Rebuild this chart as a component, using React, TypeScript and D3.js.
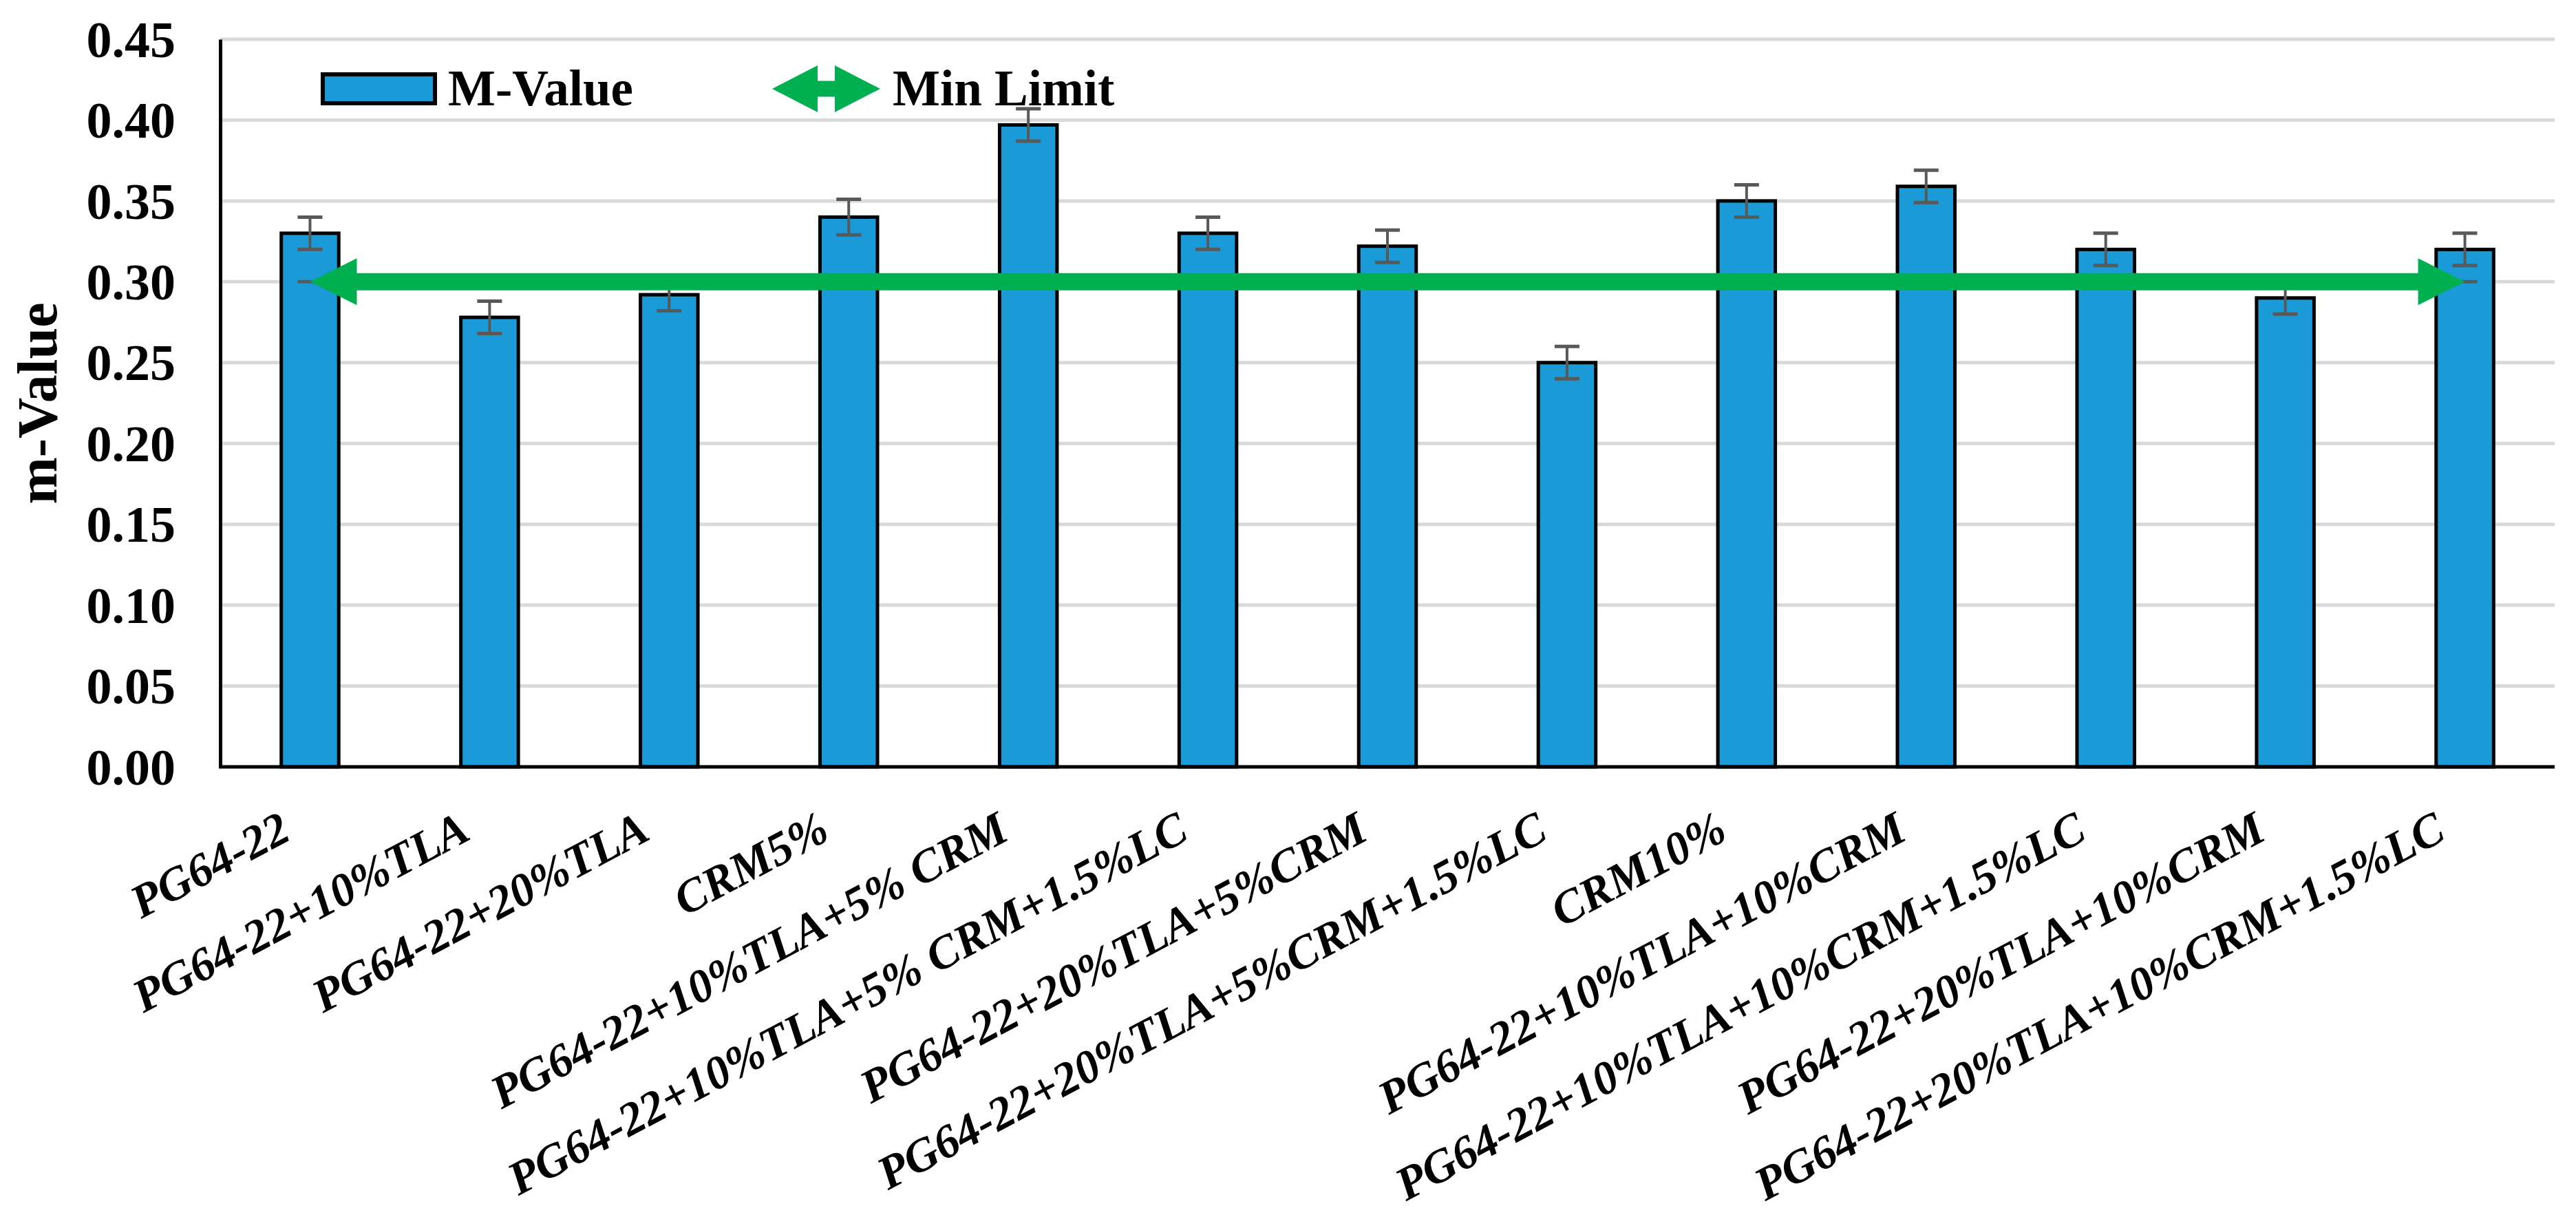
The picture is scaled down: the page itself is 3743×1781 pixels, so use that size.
import React, { useRef, useEffect } from "react";
import { select, scaleBand, scaleLinear, axisLeft, format } from "d3";

const categories = [
  "PG64-22",
  "PG64-22+10%TLA",
  "PG64-22+20%TLA",
  "CRM5%",
  "PG64-22+10%TLA+5% CRM",
  "PG64-22+10%TLA+5% CRM+1.5%LC",
  "PG64-22+20%TLA+5%CRM",
  "PG64-22+20%TLA+5%CRM+1.5%LC",
  "CRM10%",
  "PG64-22+10%TLA+10%CRM",
  "PG64-22+10%TLA+10%CRM+1.5%LC",
  "PG64-22+20%TLA+10%CRM",
  "PG64-22+20%TLA+10%CRM+1.5%LC",
];
const mValues = [0.33, 0.278, 0.292, 0.34, 0.397, 0.33, 0.322, 0.25, 0.35, 0.359, 0.32, 0.29, 0.32];
const mErrors = [0.01, 0.01, 0.01, 0.011, 0.01, 0.01, 0.01, 0.01, 0.01, 0.01, 0.01, 0.01, 0.01];
const minLimit = 0.3;
const yTicks = [0, 0.05, 0.1, 0.15, 0.2, 0.25, 0.3, 0.35, 0.4, 0.45];
const legendLabels = ["M-Value", "Min Limit"];

const FONT = "'Liberation Serif', 'Times New Roman', serif";
const BLUE = "#1a9bd7";
const GREEN = "#00b050";

// double headed arrow as a closed polygon
function arrowPath(x0: number, x1: number, y: number, shaft: number, headLen: number, headHalf: number) {
  const s = shaft / 2;
  return (
    `M${x0},${y} L${x0 + headLen},${y - headHalf} L${x0 + headLen},${y - s} ` +
    `L${x1 - headLen},${y - s} L${x1 - headLen},${y - headHalf} L${x1},${y} ` +
    `L${x1 - headLen},${y + headHalf} L${x1 - headLen},${y + s} L${x0 + headLen},${y + s} ` +
    `L${x0 + headLen},${y + headHalf} Z`
  );
}

function App() {
  const svgRef = useRef<SVGSVGElement | null>(null);

  useEffect(() => {
    const svg = select(svgRef.current);
    svg.selectAll("*").remove();

    const left = 320, right = 3712, top = 57, bottom = 1114;

    const xscale = scaleBand<string>()
      .domain(categories)
      .range([left, right])
      .paddingInner(0.68)
      .paddingOuter(0.34);
    const yscale = scaleLinear().domain([0, 0.45]).range([bottom, top]);
    const cx = (c: string) => (xscale(c) as number) + xscale.bandwidth() / 2;

    // gridlines
    svg.append("g")
      .selectAll("line")
      .data(yTicks.filter((t) => t > 0))
      .join("line")
      .attr("x1", left)
      .attr("x2", right)
      .attr("y1", (d) => yscale(d))
      .attr("y2", (d) => yscale(d))
      .attr("stroke", "#d9d9d9")
      .attr("stroke-width", 5);

    // bars
    svg.append("g")
      .selectAll("rect")
      .data(categories)
      .join("rect")
      .attr("x", (d) => xscale(d) as number)
      .attr("width", xscale.bandwidth())
      .attr("y", (d, i) => yscale(mValues[i]))
      .attr("height", (d, i) => bottom - yscale(mValues[i]))
      .attr("fill", BLUE)
      .attr("stroke", "#000")
      .attr("stroke-width", 5);

    // error bars
    const eb = svg.append("g").attr("stroke", "#595959").attr("stroke-width", 4);
    categories.forEach((c, i) => {
      const x = cx(c);
      const hi = yscale(mValues[i] + mErrors[i]);
      const lo = yscale(mValues[i] - mErrors[i]);
      eb.append("line").attr("x1", x).attr("x2", x).attr("y1", hi).attr("y2", lo);
      eb.append("line").attr("x1", x - 18).attr("x2", x + 18).attr("y1", hi).attr("y2", hi).attr("stroke-width", 5);
      eb.append("line").attr("x1", x - 18).attr("x2", x + 18).attr("y1", lo).attr("y2", lo).attr("stroke-width", 5);
    });

    // min limit arrow (end markers first)
    const ax0 = cx(categories[0]);
    const ax1 = cx(categories[categories.length - 1]);
    const ay = yscale(minLimit);
    [ax0, ax1].forEach((x) => {
      eb.append("line").attr("x1", x - 18).attr("x2", x + 18).attr("y1", ay).attr("y2", ay).attr("stroke-width", 5);
    });
    svg.append("path").attr("d", arrowPath(ax0, ax1, ay, 25, 68, 34)).attr("fill", GREEN);

    // y axis
    const yaxis = axisLeft(yscale).tickValues(yTicks).tickSize(0).tickSizeOuter(0).tickPadding(65).tickFormat(format(".2f"));
    const gy = svg.append("g").attr("transform", `translate(${left},0)`).call(yaxis);
    gy.select(".domain").attr("stroke", "#000").attr("stroke-width", 5);
    gy.selectAll("text")
      .attr("font-family", FONT)
      .attr("font-weight", "bold")
      .attr("font-size", 74)
      .attr("fill", "#000")
      .attr("dy", "0.34em");

    // x axis line
    svg.append("line")
      .attr("x1", left - 2)
      .attr("x2", right)
      .attr("y1", bottom)
      .attr("y2", bottom)
      .attr("stroke", "#000")
      .attr("stroke-width", 5);

    // category labels
    svg.append("g")
      .selectAll("text")
      .data(categories)
      .join("text")
      .attr("transform", (d) => `translate(${cx(d) - 25},1218) rotate(-28)`)
      .attr("text-anchor", "end")
      .attr("font-family", FONT)
      .attr("font-weight", "bold")
      .attr("font-style", "italic")
      .attr("font-size", 68)
      .attr("fill", "#000")
      .text((d) => d);

    // y title
    svg.append("text")
      .attr("transform", "translate(82,586) rotate(-90)")
      .attr("text-anchor", "middle")
      .attr("font-family", FONT)
      .attr("font-weight", "bold")
      .attr("font-size", 82)
      .attr("fill", "#000")
      .text("m-Value");

    // legend
    const lg = svg.append("g");
    lg.append("rect")
      .attr("x", 469)
      .attr("y", 108)
      .attr("width", 163)
      .attr("height", 42)
      .attr("fill", BLUE)
      .attr("stroke", "#000")
      .attr("stroke-width", 6);
    lg.append("text")
      .attr("x", 651)
      .attr("y", 153)
      .attr("font-family", FONT)
      .attr("font-weight", "bold")
      .attr("font-size", 73)
      .attr("fill", "#000")
      .text(legendLabels[0]);
    lg.append("path").attr("d", arrowPath(1122, 1279, 129, 23, 66, 34)).attr("fill", GREEN);
    lg.append("text")
      .attr("x", 1297)
      .attr("y", 153)
      .attr("font-family", FONT)
      .attr("font-weight", "bold")
      .attr("font-size", 73)
      .attr("fill", "#000")
      .text(legendLabels[1]);
  }, []);

  return (
    <svg
      ref={svgRef}
      width={3743}
      height={1781}
      style={{ position: "absolute", left: 0, top: 0, background: "#fff" }}
    />
  );
}

export default App;
